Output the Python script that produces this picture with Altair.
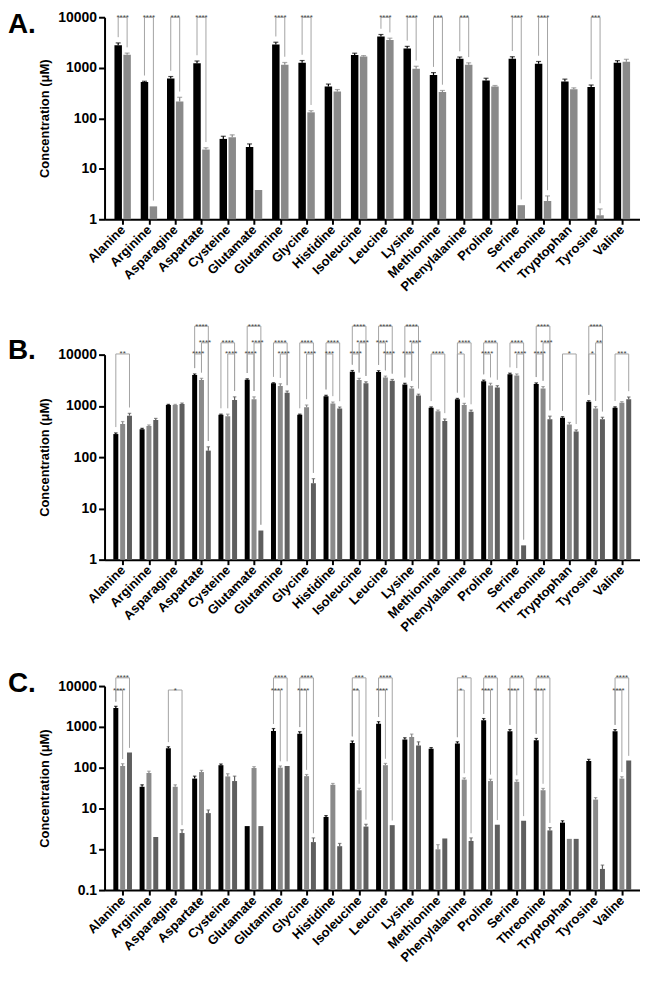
import altair as alt
import pandas as pd

FONT = "Liberation Sans"
AMINO = ["Alanine", "Arginine", "Asparagine", "Aspartate", "Cysteine", "Glutamate",
         "Glutamine", "Glycine", "Histidine", "Isoleucine", "Leucine", "Lysine",
         "Methionine", "Phenylalanine", "Proline", "Serine", "Threonine",
         "Tryptophan", "Tyrosine", "Valine"]
GROUP_NAMES = ["g1", "g2", "g3"]
GROUP_COLORS = ["#000000", "#8a8a8a", "#5e5e5e"]
YTITLE = "Concentration (μM)"

# ---------------- Panel A ----------------
A_BLACK = [2800, 520, 610, 1230, 39, 27, 2900, 1260, 425, 1790, 4150, 2400, 720, 1500, 560, 1500, 1200, 535, 415, 1260]
A_GRAY = [1800, 1.8, 215, 24, 42, 3.8, 1150, 131, 340, 1660, 3550, 950, 330, 1140, 425, 1.9, 2.3, 375, 1.2, 1320]
A_BLACK_ERR = [300, 20, 60, 130, 5, 4, 300, 130, 50, 150, 400, 250, 80, 130, 60, 150, 130, 60, 40, 120]
A_GRAY_ERR = [150, 0, 45, 2, 5, 0, 120, 10, 30, 80, 300, 120, 25, 110, 20, 0, 0.6, 25, 0.4, 150]
A_LEVELS = [10000]
A_BRACKETS = [(0, 0, 1, 0, "****"), (1, 0, 1, 0, "****"), (2, 0, 1, 0, "***"), (3, 0, 1, 0, "****"),
              (6, 0, 1, 0, "****"), (7, 0, 1, 0, "****"), (10, 0, 1, 0, "****"), (11, 0, 1, 0, "****"),
              (12, 0, 1, 0, "***"), (13, 0, 1, 0, "***"), (15, 0, 1, 0, "****"), (16, 0, 1, 0, "****"),
              (18, 0, 1, 0, "***")]

# ---------------- Panel B ----------------
B_BLACK = [282, 350, 1040, 4000, 670, 3220, 2750, 670, 1550, 4650, 4600, 2610, 915, 1340, 3030, 4140, 2660, 590, 1200, 920]
B_GRAY = [445, 405, 1040, 3200, 630, 1350, 2450, 940, 1110, 3200, 3560, 2180, 790, 1040, 2510, 3900, 2180, 435, 890, 1150]
B_HATCH = [645, 530, 1085, 134, 1300, 3.7, 1800, 31, 890, 2750, 3080, 1590, 505, 767, 2280, 1.9, 550, 315, 550, 1340]
B_BLACK_ERR = [15, 15, 30, 200, 20, 150, 80, 20, 60, 250, 250, 150, 40, 60, 150, 200, 150, 25, 60, 40]
B_GRAY_ERR = [50, 20, 30, 250, 60, 150, 250, 100, 80, 250, 250, 200, 40, 80, 250, 300, 200, 40, 80, 60]
B_HATCH_ERR = [70, 40, 50, 25, 200, 0, 150, 7, 60, 200, 200, 100, 50, 60, 200, 0, 80, 25, 50, 150]
B_LEVELS = [10300, 17000, 36000]
B_BRACKETS = [(0, 0, 2, 0, "**"),
              (3, 0, 1, 0, "****"), (3, 1, 2, 1, "****"), (3, 0, 2, 2, "****"),
              (4, 0, 2, 1, "****"), (4, 1, 2, 0, "****"),
              (5, 0, 1, 0, "****"), (5, 1, 2, 1, "****"), (5, 0, 2, 2, "****"),
              (6, 0, 2, 1, "****"), (6, 1, 2, 0, "****"),
              (7, 0, 2, 1, "****"), (7, 1, 2, 0, "****"),
              (8, 0, 2, 1, "****"), (8, 0, 1, 0, "***"),
              (9, 0, 1, 0, "****"), (9, 1, 2, 1, "****"), (9, 0, 2, 2, "****"),
              (10, 0, 2, 2, "****"), (10, 0, 1, 1, "****"), (10, 1, 2, 0, "****"),
              (11, 0, 2, 2, "****"), (11, 1, 2, 1, "****"), (11, 0, 1, 0, "****"),
              (12, 0, 2, 0, "****"),
              (13, 0, 2, 1, "****"), (13, 0, 1, 0, "*"),
              (14, 0, 2, 1, "****"), (14, 0, 1, 0, "****"),
              (15, 0, 2, 1, "****"), (15, 1, 2, 0, "****"),
              (16, 0, 2, 2, "****"), (16, 1, 2, 1, "****"), (16, 0, 1, 0, "****"),
              (17, 0, 2, 0, "*"),
              (18, 0, 2, 2, "****"), (18, 1, 2, 1, "**"), (18, 0, 1, 0, "*"),
              (19, 0, 2, 0, "***")]

# ---------------- Panel C ----------------
C_BLACK = [2890, 34, 300, 54, 115, 3.7, 790, 680, 6.2, 400, 1190, 490, 290, 390, 1450, 780, 470, 4.5, 145, 780]
C_GRAY = [110, 74, 34, 78, 61, 98, 100, 62, 38, 28, 115, 565, 1.0, 51, 47, 45, 28, 1.8, 16.5, 54]
C_HATCH = [235, 2.0, 2.5, 7.7, 47, 3.7, 110, 1.5, 1.19, 3.6, 3.9, 350, 1.84, 1.6, 4.0, 5.0, 2.9, 1.8, 0.33, 150]
C_BLACK_ERR = [300, 4, 25, 8, 8, 0, 120, 80, 0.5, 50, 150, 50, 20, 40, 150, 80, 50, 0.5, 15, 80]
C_GRAY_ERR = [15, 8, 4, 8, 10, 8, 10, 6, 3, 3, 12, 100, 0.3, 5, 5, 5, 3, 0, 2, 6]
C_HATCH_ERR = [0, 0, 0.5, 1.5, 15, 0, 0, 0.4, 0.2, 0.5, 0, 80, 0, 0.3, 0, 0, 0.5, 0, 0.08, 0]
C_LEVELS = [8000, 15900]
C_BRACKETS = [(0, 0, 1, 0, "****"), (0, 0, 2, 1, "****"),
              (2, 0, 2, 0, "*"),
              (6, 0, 1, 0, "****"), (6, 0, 2, 1, "****"),
              (7, 0, 1, 0, "****"), (7, 0, 2, 1, "****"),
              (9, 0, 1, 0, "**"), (9, 0, 2, 1, "***"),
              (10, 0, 1, 0, "****"), (10, 0, 2, 1, "****"),
              (13, 0, 1, 0, "*"), (13, 0, 2, 1, "**"),
              (14, 0, 1, 0, "****"), (14, 0, 2, 1, "****"),
              (15, 0, 1, 0, "****"), (15, 0, 2, 1, "****"),
              (16, 0, 1, 0, "****"), (16, 0, 2, 1, "****"),
              (19, 0, 1, 0, "****"), (19, 0, 2, 1, "****")]

LABEL_EXPR = "[" + ",".join("'%s'" % a for a in AMINO) + "][round(datum.value)]"
BR_COLOR = "#a3a3a3"
PLOT_W = 538


def panel(letter, letter_dy, vals, errs, offsets, bar_size, cap_size, levels, brackets,
          ymin, yticks, height):
    rows = []
    for g, (vs, es) in enumerate(zip(vals, errs)):
        for i, (v, e) in enumerate(zip(vs, es)):
            rows.append(dict(xpos=i + offsets[g], value=v, top=v + e, err=e,
                             grp=GROUP_NAMES[g], base=ymin))
    bars = pd.DataFrame(rows)

    brows = []
    for (i, g1, g2, lev, s) in brackets:
        lv = levels[lev]
        e1 = min(lv, (vals[g1][i] + errs[g1][i]) * 1.3)
        e2 = min(lv, (vals[g2][i] + errs[g2][i]) * 1.3)
        x1 = i + offsets[g1]
        x2 = i + offsets[g2]
        brows.append(dict(x1=x1, x2=x2, xm=(x1 + x2) / 2, level=lv, end1=e1, end2=e2, stars=s))
    br = pd.DataFrame(brows)

    xs = alt.Scale(domain=[-0.5, 19.5], nice=False, zero=False)
    ys = alt.Scale(type="log", domain=[ymin, 10000], nice=False)
    xaxis = alt.Axis(values=list(range(20)), tickCount=20, labelExpr=LABEL_EXPR, labelAngle=-45,
                     labelAlign="right", labelBaseline="middle", labelFontSize=13,
                     labelFontWeight="bold", tickSize=5, labelPadding=3, grid=False,
                     labelOverlap=False, labelFlush=False, labelBound=False, title=None)
    yaxis = alt.Axis(values=yticks, format="~g", labelFontSize=14, labelFontWeight="bold",
                     tickSize=6, labelPadding=2, titleFontSize=13, titleFontWeight="bold",
                     titlePadding=6, grid=False, labelOverlap=False, labelFlush=False,
                     title=YTITLE)
    color = alt.Color("grp:N", scale=alt.Scale(domain=GROUP_NAMES, range=GROUP_COLORS), legend=None)

    def X(f):
        return alt.X(f, scale=xs, axis=xaxis)

    def Y(f):
        return alt.Y(f, scale=ys, axis=yaxis)

    base = alt.Chart(bars)
    bar_layer = base.mark_bar(size=bar_size).encode(
        x=X("xpos:Q"), y=Y("value:Q"), y2="base:Q", color=color)
    errb = base.transform_filter("datum.err > 0")
    err_layer = errb.mark_rule(strokeWidth=1.2).encode(
        x=X("xpos:Q"), y=Y("value:Q"), y2="top:Q", color=color)
    cap_layer = errb.mark_tick(orient="horizontal", size=cap_size, thickness=1.2).encode(
        x=X("xpos:Q"), y=Y("top:Q"), color=color)

    bb = alt.Chart(br)
    h_layer = bb.mark_rule(color=BR_COLOR, strokeWidth=1).encode(
        x=X("x1:Q"), x2="x2:Q", y=Y("level:Q"))
    l_layer = bb.mark_rule(color=BR_COLOR, strokeWidth=1).encode(
        x=X("x1:Q"), y=Y("level:Q"), y2="end1:Q")
    r_layer = bb.mark_rule(color=BR_COLOR, strokeWidth=1).encode(
        x=X("x2:Q"), y=Y("level:Q"), y2="end2:Q")
    s_layer = bb.mark_text(fontSize=8, color="#444444", baseline="alphabetic", dy=2.5, font=FONT).encode(
        x=X("xm:Q"), y=Y("level:Q"), text="stars:N")

    let_layer = alt.Chart(pd.DataFrame({"t": [letter]})).mark_text(
        align="left", baseline="alphabetic", fontSize=28, fontWeight="bold", font=FONT,
        color="black").encode(text="t:N", x=alt.value(-97), y=alt.value(letter_dy))

    return alt.layer(bar_layer, err_layer, cap_layer, h_layer, l_layer, r_layer, s_layer,
                     let_layer).properties(width=PLOT_W, height=height)


pA = panel("A.", 16, [A_BLACK, A_GRAY], [A_BLACK_ERR, A_GRAY_ERR], [-0.17, 0.17], 7.5, 5,
           A_LEVELS, A_BRACKETS, 1, [1, 10, 100, 1000, 10000], 203)
pB = panel("B.", 4, [B_BLACK, B_GRAY, B_HATCH], [B_BLACK_ERR, B_GRAY_ERR, B_HATCH_ERR],
           [-0.26, 0.0, 0.26], 5, 3.5, B_LEVELS, B_BRACKETS, 1, [1, 10, 100, 1000, 10000], 206)
pC = panel("C.", 6, [C_BLACK, C_GRAY, C_HATCH], [C_BLACK_ERR, C_GRAY_ERR, C_HATCH_ERR],
           [-0.26, 0.0, 0.26], 5, 3.5, C_LEVELS, C_BRACKETS, 0.1, [0.1, 1, 10, 100, 1000, 10000], 205)

chart = alt.vconcat(alt.vconcat(pA, pB, spacing=28), pC, spacing=36).properties(
    padding={"left": 0, "top": 0, "right": 0, "bottom": 0}
).configure_view(stroke=None).configure_axis(
    domainColor="black", domainWidth=2, tickColor="black", tickWidth=2,
    labelColor="black", titleColor="black", labelFont=FONT, titleFont=FONT
).configure_text(font=FONT)

chart.save("out.html", embed_options={"renderer": "svg", "actions": False})
